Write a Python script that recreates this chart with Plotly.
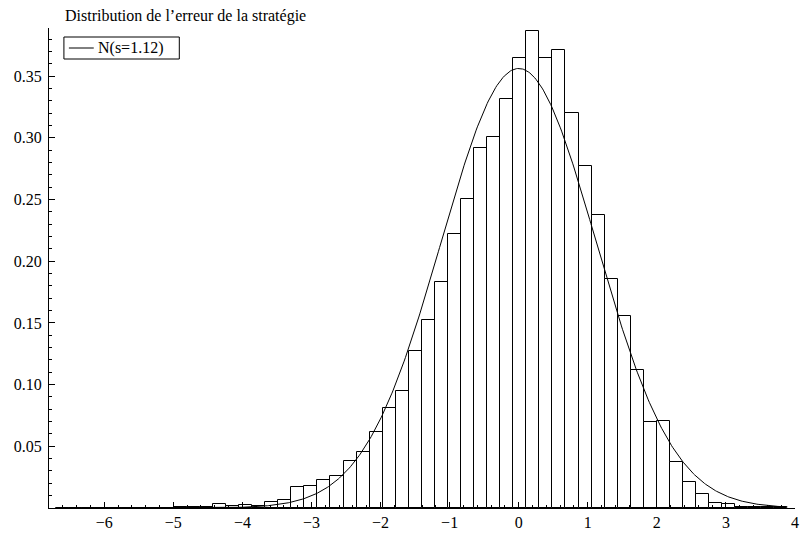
import numpy as np
import plotly.graph_objects as go

# Histogram: bin edges start and common width, densities per bin
bin_start = -6.694
bin_width = 0.189
densities = [
    0.0004, 0.0004, 0.0002, 0.0002, 0.0002, 0.0, 0.0002, 0.0002, 0.0004, 0.0006, 0.0010, 0.0005,
    0.0036, 0.0020, 0.0026, 0.0020, 0.0050, 0.0064, 0.0171, 0.0182, 0.0229, 0.0258, 0.0383,
    0.0457, 0.0617, 0.0807, 0.0949, 0.1269, 0.1525, 0.1830, 0.2224, 0.2507, 0.2917, 0.3006,
    0.3313,
    0.3650, 0.3863, 0.3647, 0.3715, 0.3202, 0.2771, 0.2377, 0.1857, 0.1560, 0.1118, 0.0694,
    0.0707, 0.0372, 0.0209, 0.0117, 0.0039, 0.0034, 0.0006, 0.0005, 0.0008, 0.0010,
]
# Fitted normal
sigma = 1.12
mu = 0.0
legend_label = "N(s=1.12)"
title_text = "Distribution de l\u2019erreur de la strat\u00e9gie"
y_tickvals = [0.05, 0.10, 0.15, 0.20, 0.25, 0.30, 0.35]
x_tickvals = [-6, -5, -4, -3, -2, -1, 0, 1, 2, 3, 4]

n = len(densities)
centers = [bin_start + bin_width * (i + 0.5) for i in range(n)]
x_end = bin_start + bin_width * n
xc = np.linspace(bin_start, x_end, 600)
yc = np.exp(-0.5 * ((xc - mu) / sigma) ** 2) / (sigma * np.sqrt(2 * np.pi))

FONT = "Liberation Serif"
W, H = 802, 535
ML, MR, MT, MB = 49, 3, 28, 27
PW, PH = W - ML - MR, H - MT - MB


def px_x(px):
    return (px - ML) / PW


def px_y(py):
    return 1 - (py - MT) / PH


fig = go.Figure()
fig.add_trace(go.Bar(
    x=centers, y=densities, width=bin_width,
    marker=dict(color="white", line=dict(color="black", width=1)),
    showlegend=False, hoverinfo="skip",
))
fig.add_trace(go.Scatter(
    x=xc, y=yc, mode="lines", name=legend_label,
    line=dict(color="black", width=1), showlegend=False,
))

# Legend box drawn as a framed key
fig.add_shape(type="rect", xref="paper", yref="paper",
              x0=px_x(64), x1=px_x(180), y0=px_y(59), y1=px_y(37),
              line=dict(color="black", width=1), fillcolor="white", layer="above")
fig.add_shape(type="line", xref="paper", yref="paper",
              x0=px_x(69), x1=px_x(94), y0=px_y(48), y1=px_y(48),
              line=dict(color="black", width=1), layer="above")
fig.add_annotation(xref="paper", yref="paper", x=px_x(96), y=px_y(48),
                   xanchor="left", yanchor="middle", text=legend_label,
                   showarrow=False, font=dict(family=FONT, size=16, color="black"))

axis_common = dict(
    showline=True, linecolor="black", linewidth=1,
    showgrid=False, zeroline=False,
    ticks="inside", ticklen=6, tickwidth=1, tickcolor="black",
    tickfont=dict(family=FONT, size=16, color="black"),
    ticklabeloverflow="allow",
)

fig.update_layout(
    width=W, height=H,
    margin=dict(l=ML, r=MR, t=MT, b=MB),
    paper_bgcolor="white", plot_bgcolor="white",
    bargap=0,
    showlegend=False,
    font=dict(family=FONT, size=16, color="black"),
    title=dict(text=title_text, xref="container", x=0.081, xanchor="left",
               yref="container", y=0.972, yanchor="middle",
               font=dict(family=FONT, size=16, color="black")),
    xaxis=dict(range=[-6.8, 4.0], tickmode="array", tickvals=x_tickvals,
               minor=dict(tickmode="linear", tick0=0, dtick=0.2, ticks="inside",
                          ticklen=3, tickcolor="black"),
               **axis_common),
    yaxis=dict(range=[0, 0.389], tickmode="array", tickvals=y_tickvals,
               ticktext=[f"{v:.2f}" for v in y_tickvals],
               ticklabelstandoff=3,
               minor=dict(tickmode="linear", tick0=0, dtick=0.01, ticks="inside",
                          ticklen=3, tickcolor="black"),
               **axis_common),
)

fig.write_html(
    "out.html",
    config={"displayModeBar": False},
    post_script="document.body.style.margin='0';document.body.style.overflow='hidden';",
)
